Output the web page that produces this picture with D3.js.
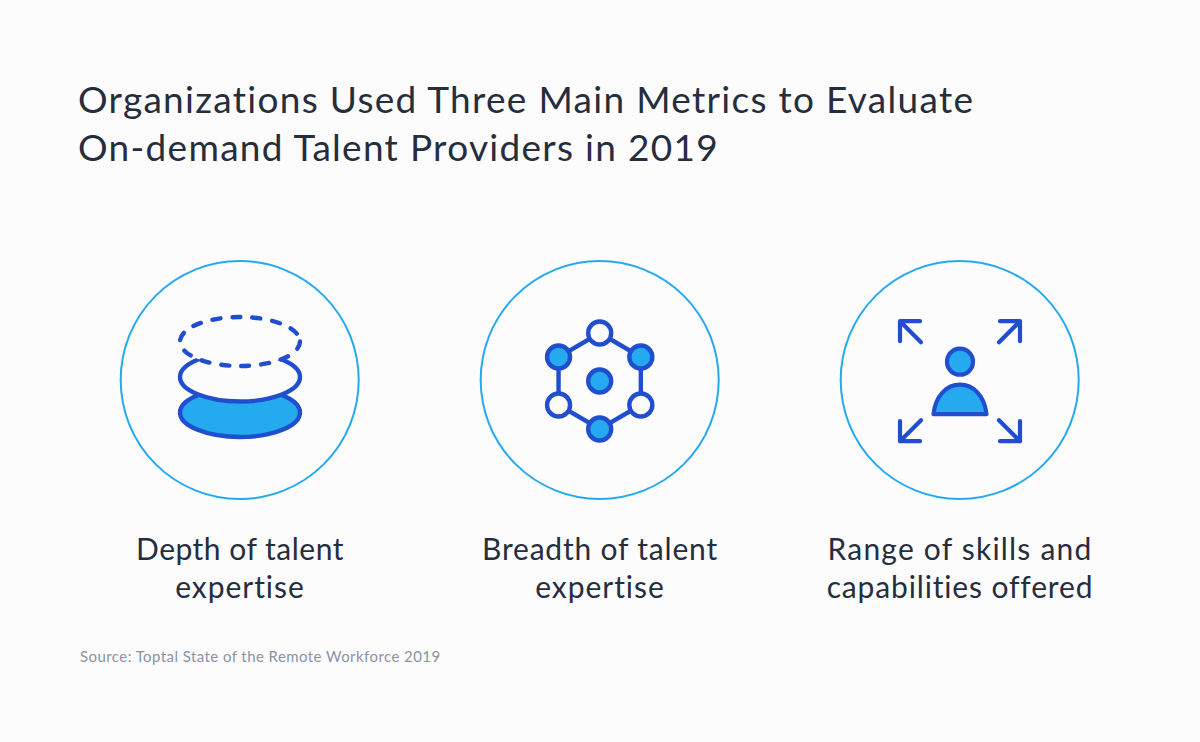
<!DOCTYPE html>
<html><head><meta charset="utf-8"><style>html,body{margin:0;padding:0;background:#fcfcfd}svg{display:block}text{font-family:Lato,sans-serif;fill:#262d3d}</style>
<script src="https://cdn.jsdelivr.net/npm/d3@7/dist/d3.min.js"></script></head><body>
<script>
const titleLines=["Organizations Used Three Main Metrics to Evaluate","On-demand Talent Providers in 2019"];
const categories=["Depth of talent","Breadth of talent","Range of skills and"];
const categoryLine2=["expertise","expertise","capabilities offered"];
const line1Spacing=[.5,.8,1.2];
const line2Spacing=[.95,.95,.85];
const sourceText="Source: Toptal State of the Remote Workforce 2019";
const discLayers=["dashed","plain","filled"];
const hexNodeAngles=[-90,-30,30,90,150,210];
const hexNodeFilled=[false,true,false,true,false,true];
const arrowDirs=[[-1,-1],[1,-1],[-1,1],[1,1]];
const W=1200,H=742,blue="#204ecf",sky="#25a9ef",bg="#fcfcfd";
const svg=d3.select("body").append("svg").attr("width",W).attr("height",H);
svg.append("rect").attr("width",W).attr("height",H).attr("fill",bg);
svg.selectAll(".t").data(titleLines).join("text").attr("x",78).attr("y",(d,i)=>113+i*48)
 .attr("font-size",37).attr("letter-spacing",1.3).text(d=>d);
const x=d3.scalePoint().domain(categories).range([240,960]);
const cy=380;
svg.selectAll(".ring").data(categories).join("circle").attr("cx",d=>x(d)-.3).attr("cy",cy).attr("r",119)
 .attr("fill","none").attr("stroke",sky).attr("stroke-width",2);
svg.selectAll(".l1").data(categories).join("text").attr("x",d=>x(d)).attr("y",560).attr("text-anchor","middle")
 .attr("font-size",30).attr("letter-spacing",(d,i)=>line1Spacing[i]).text(d=>d);
svg.selectAll(".l2").data(categoryLine2).join("text").attr("x",(d,i)=>x(categories[i])).attr("y",598).attr("text-anchor","middle")
 .attr("font-size",30).attr("letter-spacing",(d,i)=>line2Spacing[i]).text(d=>d);
svg.append("text").attr("x",80).attr("y",662).attr("font-size",15).attr("letter-spacing",.43).style("fill","#8a93a5").text(sourceText);
// icon 1
const g1=svg.append("g").attr("transform",`translate(${x(categories[0])},0)`);
const ly=d3.scalePoint().domain(discLayers).range([341.5,412.5]);
["filled","plain","dashed"].forEach(k=>{
 g1.append("ellipse").attr("cx",0).attr("cy",ly(k)).attr("rx",60).attr("ry",24.5)
  .attr("fill",k==="filled"?sky:bg).attr("stroke",blue).attr("stroke-width",4.4).attr("stroke-linecap","round")
  .attr("stroke-dasharray",k==="dashed"?"8 12":null);
});
// icon 2
const g2=svg.append("g").attr("transform",`translate(${x(categories[1])-.3},381)`);
const pos=a=>[47.5*Math.cos(a*Math.PI/180),48*Math.sin(a*Math.PI/180)];
g2.append("path").attr("d",d3.line()(hexNodeAngles.map(pos))+"Z").attr("fill","none").attr("stroke",blue).attr("stroke-width",4.4);
g2.selectAll(".n").data(hexNodeAngles).join("circle").attr("cx",d=>pos(d)[0]).attr("cy",d=>pos(d)[1]).attr("r",11.5)
 .attr("fill",(d,i)=>hexNodeFilled[i]?sky:bg).attr("stroke",blue).attr("stroke-width",4.4);
g2.append("circle").attr("r",11.5).attr("fill",sky).attr("stroke",blue).attr("stroke-width",4.4);
// icon 3
const g3=svg.append("g").attr("transform",`translate(${x(categories[2])},381.2)`);
g3.append("circle").attr("cy",-19.5).attr("r",13).attr("fill",sky).attr("stroke",blue).attr("stroke-width",4.2);
g3.append("path").attr("d","M-26.5 33 C-24.5 14 -13 3.5 0 3.5 C13 3.5 24.5 14 26.5 33 Z").attr("fill",sky).attr("stroke",blue).attr("stroke-width",4.2).attr("stroke-linejoin","round");
g3.selectAll(".a").data(arrowDirs).join("path").attr("transform",d=>`scale(${d[0]},${d[1]})`)
 .attr("d","M39 39 L60 60 M40 60 L60 60 L60 40").attr("fill","none").attr("stroke",blue).attr("stroke-width",4.2).attr("stroke-linecap","round").attr("stroke-linejoin","round");
</script></body></html>
